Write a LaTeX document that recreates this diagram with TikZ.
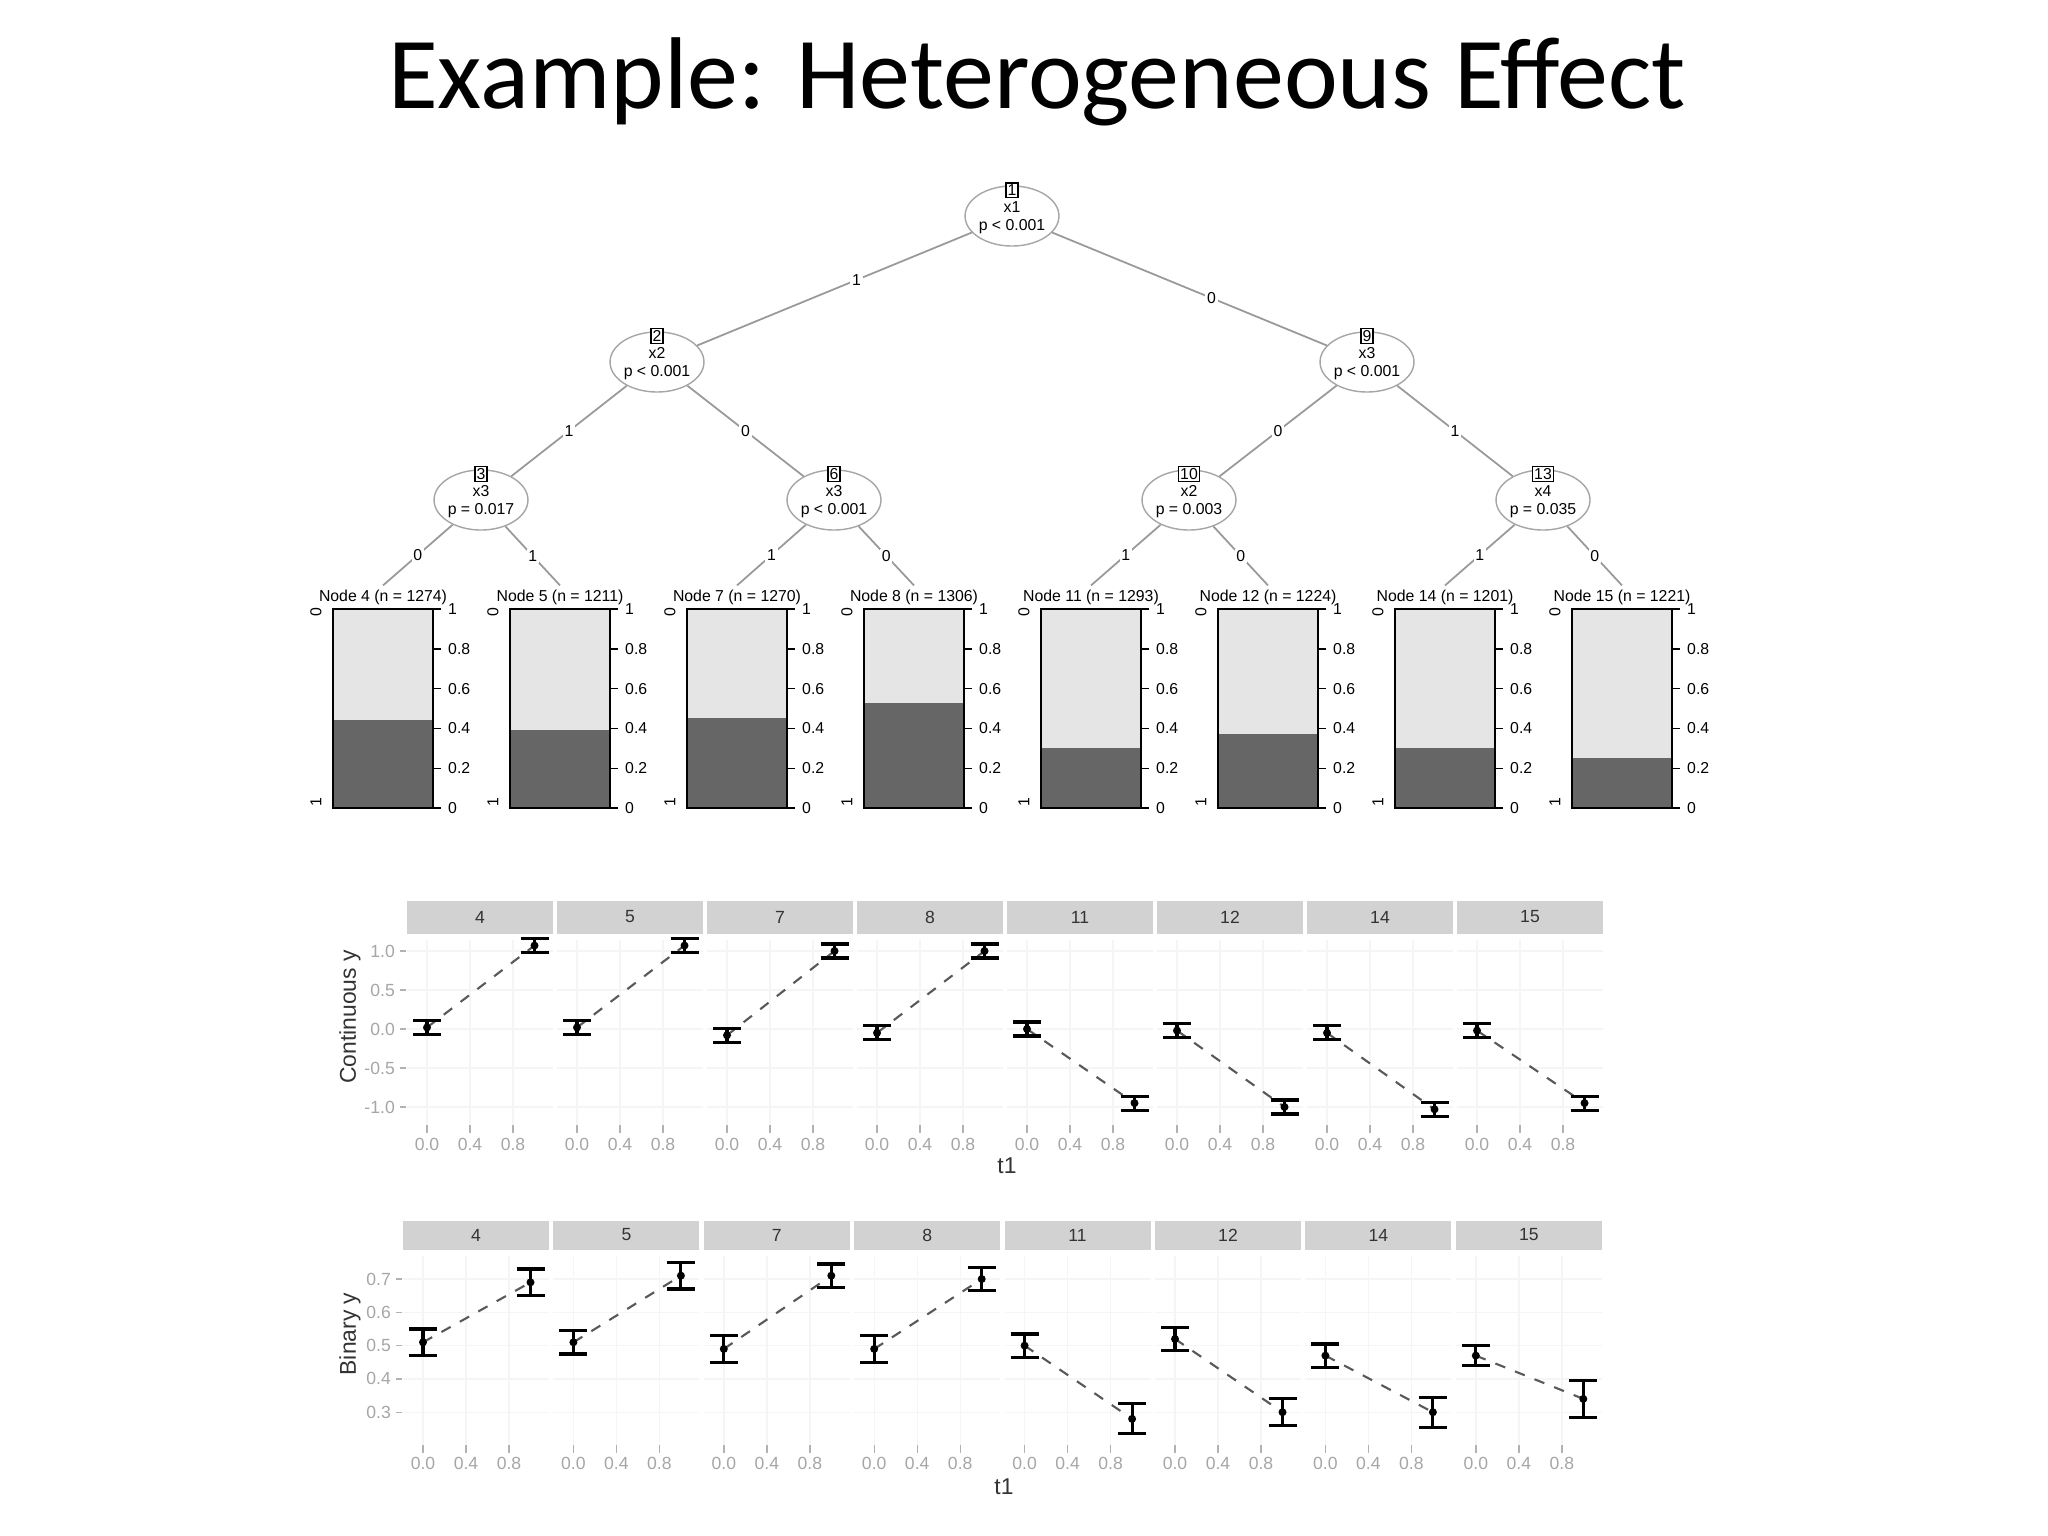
\documentclass[tikz,border=0pt]{standalone}
\usepackage{fontspec}
\setmainfont{Liberation Sans}
\newfontfamily\titlefont{Carlito}
\usetikzlibrary{shapes.geometric}
\begin{document}
\begin{tikzpicture}[x=0.01cm,y=-0.01cm,
  tnode/.style={draw=gray!70,ellipse,minimum width=0.88cm,minimum height=0.6cm,inner sep=0pt,font=\fontsize{4.5}{5}\selectfont,align=center},
  nbox/.style={draw,fill=white,inner sep=0.5pt,font=\fontsize{4.5}{5}\selectfont},
  elab/.style={fill=white,inner sep=0.5pt,font=\fontsize{4.5}{5}\selectfont},
  edge/.style={draw=gray!80,line width=0.5pt},
  small/.style={font=\fontsize{4.5}{5}\selectfont},
  axl/.style={font=\fontsize{5}{6}\selectfont,text=gray!70},
  strip/.style={fill=gray!35,draw=none},
  ebar/.style={line width=0.9pt,black},
  dline/.style={dashed,gray!70!black,line width=0.6pt}]
\useasboundingbox[fill=white] (0,0) rectangle (2048,1536);
\node[font=\titlefont\fontsize{29}{34}\selectfont] (title) at (1037,82) {Example: Heterogeneous Effect};
% tree
\foreach \n/\x/\y/\v/\p in {1/1012/216/x1/{p < 0.001},2/657/362/x2/{p < 0.001},9/1367/362/x3/{p < 0.001},3/481/500/x3/{p = 0.017},6/834/500/x3/{p < 0.001},10/1189/500/x2/{p = 0.003},13/1543/500/x4/{p = 0.035}}{
  \node[tnode] (n\n) at (\x,\y) {\\[-1pt]\v\\\p};
  \node[nbox] (b\n) at (\x,\y-26) {\n};
}
% leaf panels
\foreach \i/\n/\N/\f in {0/4/1274/0.44,1/5/1211/0.39,2/7/1270/0.45,3/8/1306/0.53,4/11/1293/0.30,5/12/1224/0.37,6/14/1201/0.30,7/15/1221/0.25}{
  \pgfmathsetmacro\L{333+177*\i}
  \node[small,inner sep=1pt] (t\n) at (\L+50,597) {Node \n{} (n = \N)};
  \fill[gray!20] (\L,609) rectangle (\L+100,808);
  \fill[gray!80!black] (\L,808) rectangle (\L+100,808-199*\f);
  \draw[line width=0.4pt] (\L,609) rectangle (\L+100,808);
  \foreach \k/\t in {0/0,1/0.2,2/0.4,3/0.6,4/0.8,5/1}{
    \draw (\L+100,808-39.8*\k) -- (\L+108,808-39.8*\k);
    \node[small,anchor=west,inner sep=1pt] (tk\n-\k) at (\L+111,808-39.8*\k) {\t};
  }
  \node[small,rotate=90] (lz\n) at (\L-17,612) {0};
  \node[small,rotate=90] (lo\n) at (\L-17,802) {1};
}
\draw[edge] (n1) -- node[elab,pos=0.42]{1} (n2);
\draw[edge] (n1) -- node[elab,pos=0.58]{0} (n9);
\draw[edge] (n2) -- node[elab]{1} (n3);
\draw[edge] (n2) -- node[elab]{0} (n6);
\draw[edge] (n9) -- node[elab]{0} (n10);
\draw[edge] (n9) -- node[elab]{1} (n13);
\draw[edge] (n3) -- node[elab]{0} (t4.north);
\draw[edge] (n3) -- node[elab]{1} (t5.north);
\draw[edge] (n6) -- node[elab]{1} (t7.north);
\draw[edge] (n6) -- node[elab]{0} (t8.north);
\draw[edge] (n10) -- node[elab]{1} (t11.north);
\draw[edge] (n10) -- node[elab]{0} (t12.north);
\draw[edge] (n13) -- node[elab]{1} (t14.north);
\draw[edge] (n13) -- node[elab]{0} (t15.north);
% continuous plot
\foreach \i/\n/\a/\b in {0/4/0.02/1.07,1/5/0.02/1.07,2/7/-0.08/1.0,3/8/-0.05/1.0,4/11/0.0/-0.95,5/12/-0.02/-1.0,6/14/-0.05/-1.03,7/15/-0.02/-0.95}{
  \pgfmathsetmacro\P{407+150*\i}
  \fill[strip] (\P,901) rectangle (\P+146,934);
  \node[axl,text=black!80] (cs\n) at (\P+73,917) {\n};
  \foreach \g in {-1,-0.5,0,0.5,1}{\draw[gray!8] (\P,1029-78*\g) -- (\P+146,1029-78*\g);}
  \foreach \g in {0,0.4,0.8}{
    \draw[gray!8] (\P+20+107.5*\g,940) -- (\P+20+107.5*\g,1125);
    \draw[gray!60] (\P+20+107.5*\g,1125) -- (\P+20+107.5*\g,1133);
  }
  \node[axl] (cx\n a) at (\P+20,1144) {0.0};
  \node[axl] (cx\n b) at (\P+63,1144) {0.4};
  \node[axl] (cx\n c) at (\P+106,1144) {0.8};
  \coordinate (ca\n) at (\P+20,1029-78*\a);
  \coordinate (cb\n) at (\P+127.5,1029-78*\b);
  \draw[dline] (ca\n) -- (cb\n);
  \draw[ebar] (\P+6,1029-78*\a-7) -- (\P+34,1029-78*\a-7) (\P+6,1029-78*\a+7) -- (\P+34,1029-78*\a+7) (\P+20,1029-78*\a-7) -- (\P+20,1029-78*\a+7);
  \draw[ebar] (\P+113.5,1029-78*\b-7) -- (\P+141.5,1029-78*\b-7) (\P+113.5,1029-78*\b+7) -- (\P+141.5,1029-78*\b+7) (\P+127.5,1029-78*\b-7) -- (\P+127.5,1029-78*\b+7);
  \fill (ca\n) circle (4);
  \fill (cb\n) circle (4);
}
\foreach \g/\t in {-1/{-1.0},-0.5/{-0.5},0/{0.0},0.5/{0.5},1/{1.0}}{
  \draw[gray!60] (400,1029-78*\g) -- (406,1029-78*\g);
  \node[axl,anchor=east,inner sep=1pt] at (399,1029-78*\g) {\t};
}
\node[font=\fontsize{6.5}{7}\selectfont,rotate=90,text=black!80] (cyl) at (350,1017) {Continuous y};
\node[font=\fontsize{6.5}{7}\selectfont,text=black!80] (ct1) at (1007,1166) {t1};
% binary plot
\foreach \i/\n/\a/\ae/\b/\be in {0/4/0.51/0.04/0.69/0.04,1/5/0.51/0.035/0.71/0.04,2/7/0.49/0.04/0.71/0.035,3/8/0.49/0.04/0.70/0.035,4/11/0.50/0.035/0.28/0.045,5/12/0.52/0.035/0.30/0.04,6/14/0.47/0.035/0.30/0.045,7/15/0.47/0.03/0.34/0.055}{
  \pgfmathsetmacro\P{403+150.4*\i}
  \fill[strip] (\P,1221) rectangle (\P+146,1250);
  \node[axl,text=black!80] (bs\n) at (\P+73,1235) {\n};
  \foreach \g in {0.3,0.4,0.5,0.6,0.7}{\draw[gray!8] (\P,1279+333*0.7-333*\g) -- (\P+146,1279+333*0.7-333*\g);}
  \foreach \g in {0,0.4,0.8}{
    \draw[gray!8] (\P+20+107.5*\g,1256) -- (\P+20+107.5*\g,1445);
    \draw[gray!60] (\P+20+107.5*\g,1445) -- (\P+20+107.5*\g,1453);
  }
  \node[axl] (bx\n a) at (\P+20,1463) {0.0};
  \node[axl] (bx\n b) at (\P+63,1463) {0.4};
  \node[axl] (bx\n c) at (\P+106,1463) {0.8};
  \pgfmathsetmacro\ya{1279+333*(0.7-\a)}
  \pgfmathsetmacro\yb{1279+333*(0.7-\b)}
  \pgfmathsetmacro\ea{333*\ae}
  \pgfmathsetmacro\eb{333*\be}
  \coordinate (ba\n) at (\P+20,\ya);
  \coordinate (bb\n) at (\P+127.5,\yb);
  \draw[dline] (ba\n) -- (bb\n);
  \draw[ebar] (\P+6,\ya-\ea) -- (\P+34,\ya-\ea) (\P+6,\ya+\ea) -- (\P+34,\ya+\ea) (\P+20,\ya-\ea) -- (\P+20,\ya+\ea);
  \draw[ebar] (\P+113.5,\yb-\eb) -- (\P+141.5,\yb-\eb) (\P+113.5,\yb+\eb) -- (\P+141.5,\yb+\eb) (\P+127.5,\yb-\eb) -- (\P+127.5,\yb+\eb);
  \fill (ba\n) circle (4);
  \fill (bb\n) circle (4);
}
\foreach \g/\t in {0.3/0.3,0.4/0.4,0.5/0.5,0.6/0.6,0.7/0.7}{
  \draw[gray!60] (396,1279+333*0.7-333*\g) -- (402,1279+333*0.7-333*\g);
  \node[axl,anchor=east,inner sep=1pt] at (395,1279+333*0.7-333*\g) {\t};
}
\node[font=\fontsize{6.5}{7}\selectfont,rotate=90,text=black!80] (byl) at (350,1334) {Binary y};
\node[font=\fontsize{6.5}{7}\selectfont,text=black!80] (bt1) at (1004,1487) {t1};
\end{tikzpicture}
\end{document}
